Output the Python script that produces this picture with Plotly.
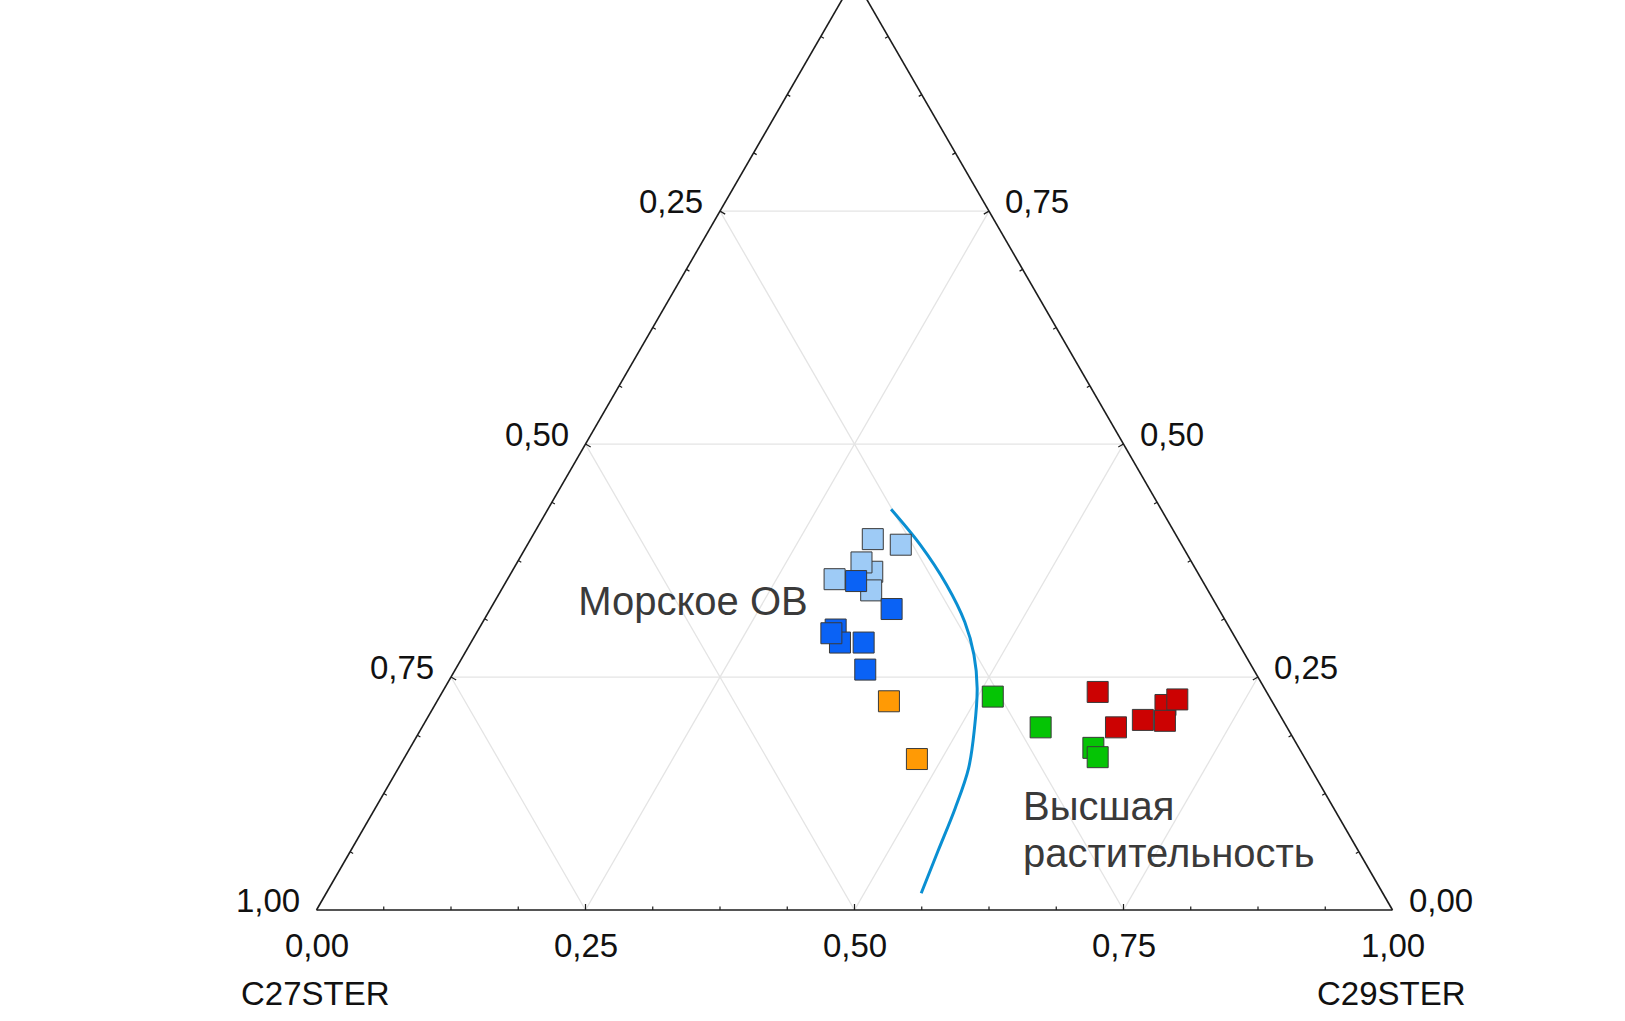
import numpy as np
import plotly.graph_objects as go

# Sterane composition of the samples (fractions of C27, C28 and C29 steranes)
light_c27 = [0.284, 0.261, 0.302, 0.313, 0.307, 0.341]
light_c28 = [0.398, 0.392, 0.363, 0.343, 0.373, 0.355]
light_c29 = [0.318, 0.347, 0.335, 0.344, 0.320, 0.304]

dark_c27 = [0.322, 0.304, 0.367, 0.370, 0.373, 0.348, 0.361]
dark_c28 = [0.353, 0.323, 0.301, 0.287, 0.297, 0.287, 0.258]
dark_c29 = [0.325, 0.373, 0.332, 0.343, 0.330, 0.365, 0.381]

orange_c27 = [0.356, 0.361]
orange_c28 = [0.224, 0.162]
orange_c29 = [0.420, 0.477]

green_c27 = [0.257, 0.229, 0.191, 0.192]
green_c28 = [0.229, 0.196, 0.174, 0.164]
green_c29 = [0.514, 0.575, 0.635, 0.644]

red_c27 = [0.157, 0.159, 0.130, 0.101, 0.110, 0.087]
red_c28 = [0.234, 0.196, 0.204, 0.220, 0.203, 0.226]
red_c29 = [0.609, 0.645, 0.666, 0.679, 0.687, 0.687]

# Boundary between marine and higher-plant organic matter
bound_c27 = [0.251, 0.243, 0.240, 0.243, 0.252, 0.267, 0.291, 0.318, 0.352, 0.391, 0.429]
bound_c28 = [0.430, 0.392, 0.349, 0.309, 0.274, 0.238, 0.195, 0.152, 0.109, 0.063, 0.018]
bound_c29 = [0.319, 0.365, 0.411, 0.448, 0.474, 0.495, 0.514, 0.530, 0.539, 0.546, 0.553]

# Field labels (one entry per text line)
label_text = ["Морское ОВ", "Высшая", "растительность"]
label_c27 = [0.4865, 0.2899, 0.3151]
label_c28 = [0.3273, 0.1070, 0.0566]
label_c29 = [0.1862, 0.6031, 0.6283]
label_pos = ["middle center", "middle right", "middle right"]

# Edge scales: C27 on the left edge, C28 on the right edge, C29 on the bottom
left_ticks = [1.0, 0.75, 0.5, 0.25]
right_ticks = [0.0, 0.25, 0.5, 0.75]
bottom_ticks = [0.0, 0.25, 0.5, 0.75, 1.0]
grid_levels = [0.25, 0.5, 0.75]
minor_steps = 16

FONT = "Liberation Sans, Arial, sans-serif"
TICK_FONT = dict(size=33, color="#111111", family=FONT)


def fmt(v):
    return f"{v:.2f}".replace(".", ",")


# page geometry: the apex of the triangle runs off the top of the page
W_FIG, H_FIG, SHIFT = 1625, 1043, 22
tri_w = 1076
tri_h = tri_w * np.sqrt(3) / 2
tri_cx = 854.5
tri_left = tri_cx - tri_w / 2
tri_bottom = 910 + SHIFT
dom_y = [(H_FIG - tri_bottom) / H_FIG, (H_FIG - tri_bottom + tri_h) / H_FIG]
dom_x = [(tri_cx - 590) / W_FIG, (tri_cx + 590) / W_FIG]


def to_paper(a, c):
    """Paper coordinates of a point on the ternary given its C28 and C29 parts."""
    x = tri_left + tri_w * (c + a / 2)
    y = tri_bottom - tri_h * a
    return x / W_FIG, 1 - y / H_FIG


# grid lines at constant C28, C27 and C29
ga, gb, gc = [], [], []
for g in grid_levels:
    ga += [g, g, None, 1 - g, 0, None, 1 - g, 0, None]
    gb += [1 - g, 0, None, g, g, None, 0, 1 - g, None]
    gc += [0, 1 - g, None, 0, 1 - g, None, g, g, None]

# short inward tick marks on the three edges
ta, tb, tc = [], [], []
for k in range(1, minor_steps):
    v = k / minor_steps
    d = (6.0 if k % 4 == 0 else 3.5) / tri_h
    # bottom edge (C28 = 0)
    ta += [0, d, None]
    tb += [1 - v, 1 - v - d / 2, None]
    tc += [v, v - d / 2, None]
    # left edge (C29 = 0)
    ta += [v, v - d / 2, None]
    tb += [1 - v, 1 - v - d / 2, None]
    tc += [0, d, None]
    # right edge (C27 = 0)
    ta += [v, v - d / 2, None]
    tb += [0, d, None]
    tc += [1 - v, 1 - v - d / 2, None]

fig = go.Figure()

fig.add_trace(go.Scatterternary(
    a=ga, b=gb, c=gc, mode="lines",
    line=dict(color="#e4e4e4", width=1.3),
    hoverinfo="skip", connectgaps=False,
))
fig.add_trace(go.Scatterternary(
    a=ta, b=tb, c=tc, mode="lines",
    line=dict(color="#1c1c1c", width=1.2),
    hoverinfo="skip", connectgaps=False, cliponaxis=False,
))
fig.add_trace(go.Scatterternary(
    a=bound_c28, b=bound_c27, c=bound_c29, mode="lines",
    line=dict(color="#0a8fd2", width=3, shape="spline", smoothing=1.0),
    hoverinfo="skip",
))

groups = [
    (light_c27, light_c28, light_c29, "#9ecbf6"),
    (dark_c27, dark_c28, dark_c29, "#0a62f5"),
    (orange_c27, orange_c28, orange_c29, "#ff9a05"),
    (green_c27, green_c28, green_c29, "#05c405"),
    (red_c27, red_c28, red_c29, "#cc0202"),
]
for c27, c28, c29, col in groups:
    fig.add_trace(go.Scatterternary(
        a=c28, b=c27, c=c29, mode="markers",
        marker=dict(symbol="square", size=21, color=col,
                    line=dict(color="#3a3a3a", width=1)),
    ))

fig.add_trace(go.Scatterternary(
    a=label_c28, b=label_c27, c=label_c29, mode="text",
    text=label_text, textposition=label_pos,
    textfont=dict(size=40, color="#3a3a3a", family=FONT),
    hoverinfo="skip",
))

# edge tick labels
annotations = []
for v in left_ticks:
    x, y = to_paper(1 - v, 0)
    annotations.append(dict(text=fmt(v), x=x, y=y, xanchor="right", yanchor="middle",
                            xshift=-15, yshift=10))
for v in right_ticks:
    x, y = to_paper(v, 1 - v)
    annotations.append(dict(text=fmt(v), x=x, y=y, xanchor="left", yanchor="middle",
                            xshift=14, yshift=9.5))
for v in bottom_ticks:
    x, y = to_paper(0, v)
    annotations.append(dict(text=fmt(v), x=x, y=y, xanchor="center", yanchor="middle",
                            yshift=-35))

# corner titles
for name, c in [("C27STER", 0.0), ("C29STER", 1.0)]:
    x, y = to_paper(0, c)
    annotations.append(dict(text=name, x=x, y=y, xanchor="center", yanchor="middle",
                            xshift=-1, yshift=-83))

for ann in annotations:
    ann.update(xref="paper", yref="paper", showarrow=False, font=TICK_FONT)


def axis_style():
    return dict(
        ticks="", showticklabels=False,
        showline=True, linecolor="#1c1c1c", linewidth=1.6,
        showgrid=False, min=0, title=dict(text=""),
    )


fig.update_layout(
    width=W_FIG, height=H_FIG,
    margin=dict(l=0, r=0, t=0, b=0),
    paper_bgcolor="white",
    showlegend=False,
    font=dict(family=FONT, color="#111111"),
    ternary=dict(
        sum=1,
        domain=dict(x=dom_x, y=dom_y),
        bgcolor="white",
        aaxis=axis_style(),
        baxis=axis_style(),
        caxis=axis_style(),
    ),
    annotations=annotations,
)

fig.write_html(
    "out.html",
    post_script=f"document.getElementById('{{plot_id}}').style.marginTop='-{SHIFT}px';",
)
